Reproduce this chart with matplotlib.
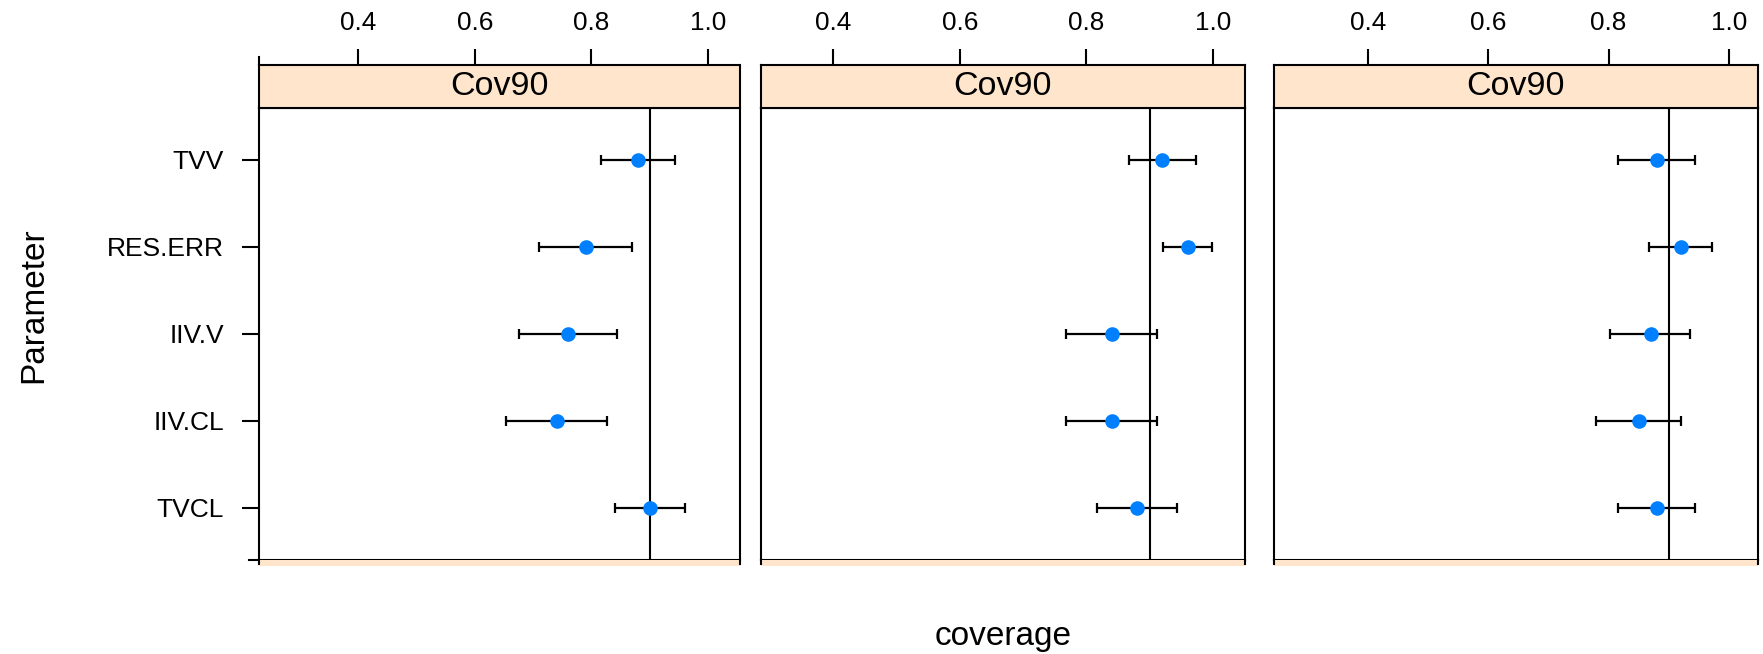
import matplotlib
matplotlib.use("Agg")
import matplotlib.pyplot as plt
from matplotlib.lines import Line2D
from matplotlib.patches import Rectangle
import numpy as np

plt.rcParams['font.family'] = ['Liberation Sans', 'DejaVu Sans']

# ---- data (top to bottom) ----
params = ["TVV", "RES.ERR", "IIV.V", "IIV.CL", "TVCL"]
strip_label = "Cov90"
ref_value = 0.9

cov_p1 = [0.88, 0.79, 0.76, 0.74, 0.90]
lo_p1 = [0.817, 0.710, 0.676, 0.654, 0.841]
hi_p1 = [0.944, 0.870, 0.844, 0.827, 0.960]

cov_p2 = [0.92, 0.96, 0.84, 0.84, 0.88]
lo_p2 = [0.867, 0.921, 0.768, 0.768, 0.816]
hi_p2 = [0.973, 0.998, 0.912, 0.912, 0.943]

cov_p3 = [0.88, 0.92, 0.87, 0.85, 0.88]
lo_p3 = [0.816, 0.867, 0.803, 0.779, 0.816]
hi_p3 = [0.944, 0.972, 0.935, 0.920, 0.944]

xlims = [(0.2292, 1.0541), (0.2847, 1.050), (0.243, 1.048)]
xticks = [0.4, 0.6, 0.8, 1.0]
xticklabels = ["0.4", "0.6", "0.8", "1.0"]

panels = [(cov_p1, lo_p1, hi_p1), (cov_p2, lo_p2, hi_p2), (cov_p3, lo_p3, hi_p3)]

W, H = 1763, 654
fig = plt.figure(figsize=(W / 100, H / 100), dpi=100)

panel_x = [(259, 739.5), (760.5, 1244.5), (1274, 1757.5)]
strip_top, strip_bot, panel_bot = 65, 107.5, 560

strip_col = "#ffe5cc"
pt_col = "#0080ff"
n = len(params)
ypos = np.arange(n, 0, -1)  # TVV at 5 ... TVCL at 1

def fx(px):
    return px / W

def fy(py):
    return 1 - py / H

for i, ((x0, x1), (cov, lo, hi)) in enumerate(zip(panel_x, panels)):
    cov = np.array(cov); lo = np.array(lo); hi = np.array(hi)
    ax = fig.add_axes([fx(x0), fy(panel_bot), fx(x1) - fx(x0), fy(strip_bot) - fy(panel_bot)])
    ax.set_xlim(*xlims[i])
    ax.set_ylim(0.4, n + 0.6)
    ax.axvline(ref_value, color="black", lw=1.5, zorder=1)
    ax.errorbar(cov, ypos, xerr=[cov - lo, hi - cov], fmt='none', ecolor='black',
                elinewidth=1.6, capsize=3.6, capthick=1.6, zorder=2)
    ax.plot(cov, ypos, 'o', color=pt_col, ms=10.5, mec='none', zorder=3)
    for s in ax.spines.values():
        s.set_linewidth(1.5)
    ax.set_xticks([])
    if i == 0:
        ax.set_yticks(ypos)
        ax.set_yticklabels(params, fontsize=19)
        ax.tick_params(axis='y', direction='out', length=12.2, width=1.5, pad=13)
    else:
        ax.set_yticks([])

    # strip with top ticks
    sax = fig.add_axes([fx(x0), fy(strip_bot), fx(x1) - fx(x0), fy(strip_top) - fy(strip_bot)])
    sax.set_facecolor(strip_col)
    sax.set_xlim(*xlims[i])
    sax.set_ylim(0, 1)
    sax.set_yticks([])
    sax.xaxis.tick_top()
    sax.set_xticks(xticks)
    sax.set_xticklabels(xticklabels, fontsize=18.8)
    sax.tick_params(axis='x', direction='out', length=11.5, width=1.5, pad=10)
    for s in sax.spines.values():
        s.set_linewidth(1.5)
    sax.text(0.5, 0.5, strip_label, transform=sax.transAxes, ha='center', va='center',
             fontsize=24.5)

    # thin strip-coloured band under the panel
    fig.patches.append(Rectangle((fx(x0), fy(565.5)), fx(x1) - fx(x0), fy(panel_bot) - fy(565.5),
                                 transform=fig.transFigure, facecolor=strip_col,
                                 edgecolor='none', zorder=0))
    # small corner marks below the panel
    for xc in (x0, x1):
        fig.add_artist(Line2D([fx(xc), fx(xc)], [fy(panel_bot), fy(564)], color='black', lw=1.5))

# left axis line of first panel extending above strip
fig.add_artist(Line2D([fx(259), fx(259)], [fy(strip_top), fy(56.5)], color='black', lw=1.5))
fig.add_artist(Line2D([fx(249), fx(259)], [fy(panel_bot), fy(panel_bot)], color='black', lw=1.5))

fig.text(fx(34), fy(305), "Parameter", rotation=90, ha='center', va='center', fontsize=24)
fig.text(fx(1003), fy(637), "coverage", ha='center', va='center', fontsize=24)

fig.savefig("out.png", dpi=100)
